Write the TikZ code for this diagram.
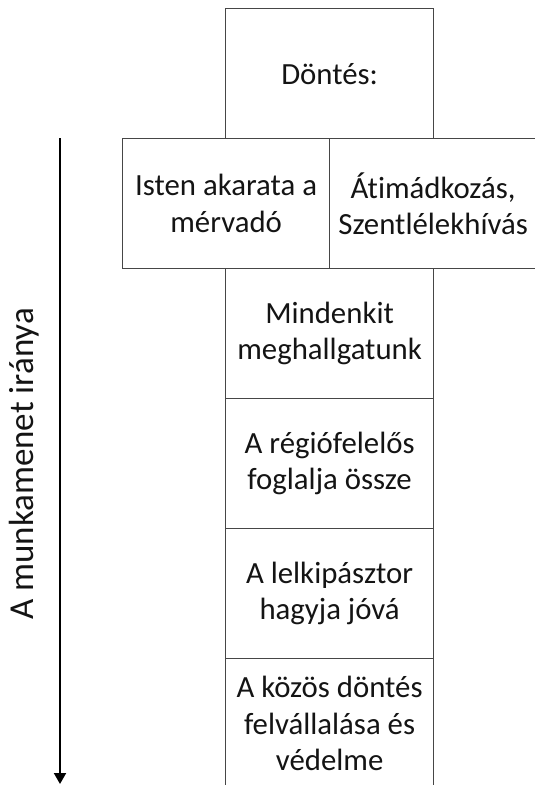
\documentclass[tikz,border=0pt]{standalone}
\usepackage{fontspec}
\setmainfont[Ligatures=CommonOff]{Carlito}
\usetikzlibrary{arrows.meta}
\definecolor{boxline}{RGB}{70,70,70}
\definecolor{txt}{RGB}{20,20,20}
\tikzset{
  stepbox/.style={draw=boxline, line width=1.2pt, anchor=north west, inner sep=0pt,
    minimum width=208pt, minimum height=130pt, align=center, text=txt,
    font=\fontsize{30.8}{36.5}\selectfont},
  flowarrow/.style={line width=2pt, -{Triangle[length=11pt,width=12pt]}},
  sidelabel/.style={rotate=90, anchor=base, text=txt, font=\fontsize{35}{42}\selectfont}
}
\begin{document}
\begin{tikzpicture}[x=1pt,y=1pt]
\clip (0,0) rectangle (535,-785);
\node[stepbox] (d) at (225,-8) {Döntés:};
\node[stepbox, minimum width=207pt] (isten) at (122,-138) {Isten akarata a\\mérvadó};
\node[stepbox, minimum width=207pt] (ati) at (329,-138) {Átimádkozás,\\Szentlélekhívás};
\node[stepbox] (mind) at (225,-268) {Mindenkit\\meghallgatunk};
\node[stepbox] (reg) at (225,-398) {A régiófelelős\\foglalja össze};
\node[stepbox] (lelk) at (225,-528) {A lelkipásztor\\hagyja jóvá};
\node[stepbox] (koz) at (225,-658) {A közös döntés\\felvállalása és\\védelme};
\coordinate (a0) at (60,-138);
\coordinate (a1) at (60,-784);
\draw[flowarrow] (a0) -- (a1);
\node[sidelabel] (lab) at (33,-464) {A munkamenet iránya};
\end{tikzpicture}
\end{document}
